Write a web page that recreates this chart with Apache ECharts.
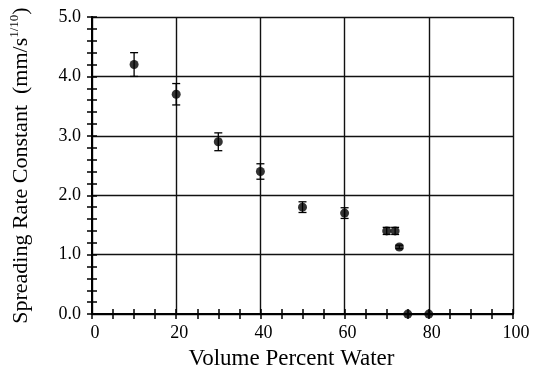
<!DOCTYPE html>
<html><head><meta charset="utf-8">
<script src="https://cdn.jsdelivr.net/npm/echarts@6/dist/echarts.min.js"></script>
<style>html,body{margin:0;padding:0;background:#fff}#c{width:535px;height:375px}</style>
</head><body><div id="c"></div>
<script>
var xValues = [10, 20, 30, 40, 50, 60, 70, 72, 73, 75, 80];
var yValues = [4.2, 3.7, 2.9, 2.4, 1.8, 1.7, 1.4, 1.4, 1.13, 0.0, 0.0];
var errValues = [0.2, 0.18, 0.15, 0.13, 0.09, 0.09, 0.06, 0.06, 0.03, 0, 0];
var xTitle = 'Volume Percent Water';
var yTitleMain = 'Spreading Rate Constant  (mm/s';
var yTitleSup = '1/10';

var pts = xValues.map(function(x, i){ return [x, yValues[i], errValues[i]]; });
var FONT = '"Liberation Serif", "DejaVu Serif", serif';
var chart = echarts.init(document.getElementById('c'));
function line(){ return {show: true, lineStyle: {color: '#000', width: 2}}; }
function tick(){ return {show: true, inside: false, length: -5, lineStyle: {color: '#000', width: 1.5}}; }
function minor(n){ return {show: true, splitNumber: n, length: -5, lineStyle: {color: '#000', width: 1.5}}; }
chart.setOption({
  animation: false,
  backgroundColor: '#fff',
  grid: {left: 91, right: 22, top: 17, bottom: 59},
  xAxis: [
    {
      type: 'value', min: 0, max: 100, interval: 20, position: 'bottom',
      axisLine: line(), axisTick: tick(), minorTick: minor(4),
      axisLabel: {fontFamily: FONT, fontSize: 18, color: '#000', margin: 10, padding: [0, 0, 0, 6]},
      splitLine: {show: true, lineStyle: {color: '#111', width: 1.4}},
      name: xTitle, nameLocation: 'middle', nameGap: 29,
      nameTextStyle: {fontFamily: FONT, fontSize: 23, color: '#000', padding: [0, 22, 0, 0]}
    },
    {
      type: 'value', min: 0, max: 100, interval: 20, position: 'top',
      axisLine: line(), axisTick: tick(), minorTick: minor(4),
      axisLabel: {show: false}, splitLine: {show: false}
    }
  ],
  yAxis: [
    {
      type: 'value', min: 0, max: 5, interval: 1, position: 'left',
      axisLine: line(), axisTick: tick(), minorTick: minor(5),
      axisLabel: {fontFamily: FONT, fontSize: 18, color: '#000', margin: 11,
        formatter: function(v){ return v.toFixed(1); }},
      splitLine: {show: true, lineStyle: {color: '#111', width: 1.4}},
      name: '{m|' + yTitleMain + '}{s|' + yTitleSup + '}{m|)}', nameLocation: 'middle', nameGap: 58, nameRotate: 90,
      nameTextStyle: {fontFamily: FONT, fontSize: 22, color: '#000',
        rich: {
          m: {fontFamily: FONT, fontSize: 22, color: '#000', lineHeight: 26},
          s: {fontFamily: FONT, fontSize: 13, color: '#000', lineHeight: 26, verticalAlign: 'top', padding: [0, 0, 10, 0]}
        }}
    },
    {
      type: 'value', min: 0, max: 5, interval: 1, position: 'right',
      axisLine: line(), axisTick: tick(), minorTick: minor(5),
      axisLabel: {show: false}, splitLine: {show: false}
    }
  ],
  series: [
    {
      type: 'custom', xAxisIndex: 0, yAxisIndex: 0, data: pts, z: 3,
      renderItem: function(params, api){
        var x = api.value(0), y = api.value(1), e = api.value(2);
        if (!e) return null;
        var top = api.coord([x, y + e]);
        var bot = api.coord([x, y - e]);
        var w = 4;
        var st = {stroke: '#000', lineWidth: 1.3};
        return {type: 'group', children: [
          {type: 'line', shape: {x1: top[0], y1: top[1], x2: bot[0], y2: bot[1]}, style: st},
          {type: 'line', shape: {x1: top[0]-w, y1: top[1], x2: top[0]+w, y2: top[1]}, style: st},
          {type: 'line', shape: {x1: bot[0]-w, y1: bot[1], x2: bot[0]+w, y2: bot[1]}, style: st}
        ]};
      }
    },
    {
      type: 'scatter', xAxisIndex: 0, yAxisIndex: 0, symbol: 'circle', symbolSize: 9, z: 4,
      itemStyle: {color: '#000'}, clip: false,
      data: pts.map(function(p){ return [p[0], p[1]]; })
    }
  ]
});
</script></body></html>
